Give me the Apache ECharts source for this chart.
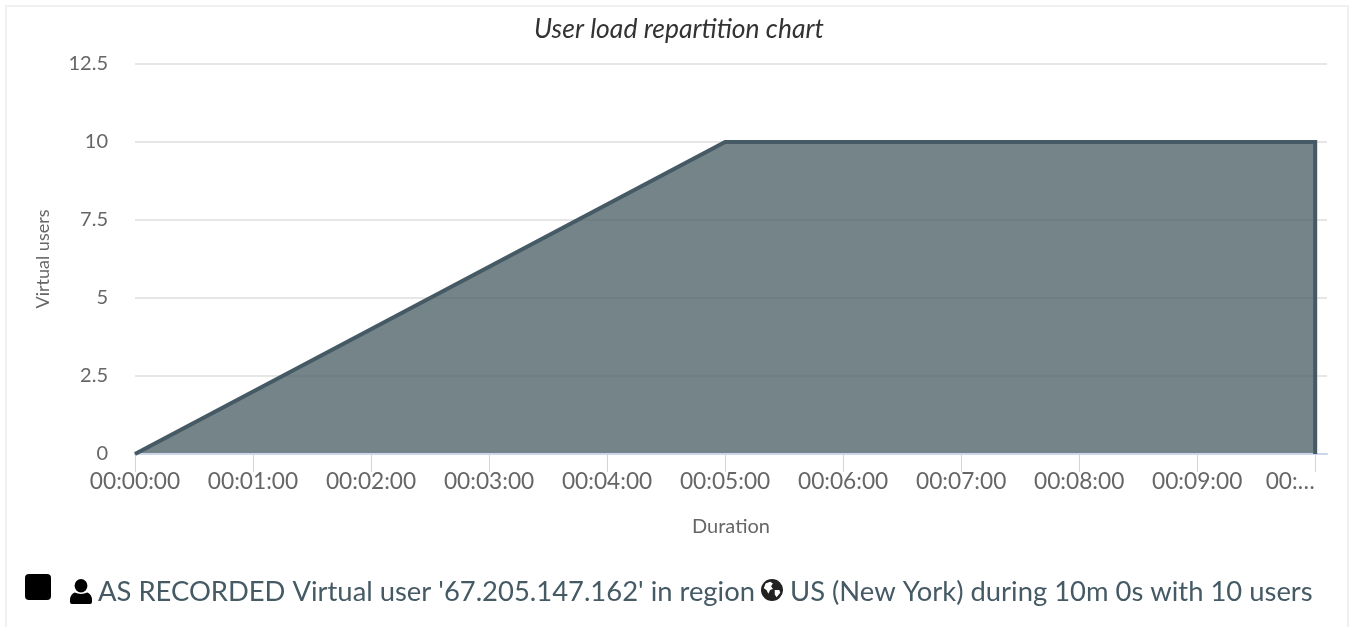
<!DOCTYPE html>
<html>
<head>
<meta charset="utf-8">
<title>User load repartition chart</title>
<script src="https://cdn.jsdelivr.net/npm/echarts@6/dist/echarts.min.js"></script>
<style>
    html, body { margin: 0; padding: 0; background: #fff; overflow: hidden; }
    #frame { position: absolute; left: 5px; top: 5px; width: 1340px; height: 640px; border: 2px solid #f0f0f0; }
    #main { position: absolute; left: 0; top: 0; width: 1349px; height: 627px; }
</style>
</head>
<body>
<div id="frame"></div>
<div id="main"></div>
<script>
    var FONT = 'Lato, "Noto Sans", sans-serif';

    // duration in seconds, virtual users
    var durations = [0, 300, 600, 600];
    var users = [0, 10, 10, 0];

    var xTickValues = [0, 60, 120, 180, 240, 300, 360, 420, 480, 540, 600];
    var xTickLabels = ['00:00:00', '00:01:00', '00:02:00', '00:03:00', '00:04:00', '00:05:00',
        '00:06:00', '00:07:00', '00:08:00', '00:09:00', '00:…'];

    var seriesName = "AS RECORDED Virtual user '67.205.147.162' in region US (New York) during 10m 0s with 10 users";
    var legendBefore = "AS RECORDED Virtual user '67.205.147.162' in region";
    var legendAfter = " US (New York) during 10m 0s with 10 users";

    var userIcon = 'data:image/svg+xml,' + encodeURIComponent(
        '<svg xmlns="http://www.w3.org/2000/svg" viewBox="0 0 24 26"><circle cx="12" cy="7" r="7"/>' +
        '<path d="M5 14q7 3 14 0q5 2 5 8v2q0 2-2 2H2q-2 0-2-2v-2q0-6 5-8z"/></svg>');
    var globeIcon = 'data:image/svg+xml,' + encodeURIComponent(
        '<svg xmlns="http://www.w3.org/2000/svg" viewBox="0 0 24 24"><circle cx="12" cy="12" r="12" fill="#222"/>' +
        '<path fill="#fff" d="M5 5l5-2 3 2-2 3 2 3-3 1-2 4-2-4-3-2zM15 12l5 0 1 3-4 5-2-3z"/></svg>');

    var xData = [];
    for (var i = 0; i < durations.length; i++) {
        xData.push([durations[i], users[i]]);
    }

    var myChart = echarts.init(document.getElementById('main'));
    var option = {
        animation: false,
        textStyle: { fontFamily: FONT },
        title: {
            text: 'User load repartition chart',
            left: 674,
            top: 11,
            textAlign: 'center',
            textStyle: { fontFamily: FONT, fontSize: 26.5, fontWeight: 'normal', fontStyle: 'italic', color: '#333' }
        },
        grid: { left: 135, right: 22, top: 64, bottom: 173 },
        legend: {
            left: 25,
            top: 574,
            padding: 0,
            itemWidth: 26,
            itemHeight: 26,
            itemGap: 0,
            icon: 'path://M4 0H22Q26 0 26 4V22Q26 26 22 26H4Q0 26 0 22V4Q0 0 4 0Z',
            itemStyle: { color: '#000', borderWidth: 0 },
            data: [seriesName],
            formatter: function () {
                return '{user|}{gap|}' + legendBefore + '{gap|}{globe|}' + legendAfter;
            },
            textStyle: {
                fontFamily: FONT,
                fontSize: 27.4,
                color: '#455a64',
                padding: [11, 0, 0, 14],
                rich: {
                    user: { width: 22, height: 25, verticalAlign: 'top', backgroundColor: { image: userIcon } },
                    gap: { width: 6, height: 1 },
                    globe: { width: 22, height: 22, verticalAlign: 'top', backgroundColor: { image: globeIcon } }
                }
            }
        },
        xAxis: {
            type: 'value',
            min: 0,
            max: 606,
            name: 'Duration',
            nameLocation: 'middle',
            nameGap: 63,
            nameTextStyle: { fontFamily: FONT, fontSize: 20, color: '#666' },
            splitLine: { show: false },
            z: 3,
            axisLine: { show: true, lineStyle: { color: '#ccd6eb', width: 2 } },
            axisTick: { show: true, length: 18, lineStyle: { color: '#ccd6eb', width: 1 }, customValues: xTickValues },
            axisLabel: {
                customValues: xTickValues,
                margin: 16,
                hideOverlap: false,
                fontFamily: FONT,
                fontSize: 22.7,
                color: '#666',
                formatter: function (value) {
                    var label = xTickLabels[xTickValues.indexOf(value)];
                    // the last label is cut short and sits left of its tick
                    return value === 600 ? '{last|' + label + '}' : label;
                },
                rich: {
                    last: { fontFamily: FONT, fontSize: 22.7, color: '#666', padding: [0, 50, 0, 0] }
                }
            }
        },
        yAxis: {
            type: 'value',
            min: 0,
            max: 12.5,
            interval: 2.5,
            name: 'Virtual users',
            nameLocation: 'middle',
            nameGap: 83,
            nameTextStyle: { fontFamily: FONT, fontSize: 18, color: '#666' },
            axisLine: { show: false },
            axisTick: { show: false },
            axisLabel: { margin: 27, padding: [0, 0, 4, 0], fontFamily: FONT, fontSize: 20, color: '#666' },
            splitLine: { lineStyle: { color: '#e6e6e6', width: 2 } }
        },
        series: [{
            name: seriesName,
            type: 'line',
            showSymbol: false,
            symbol: 'none',
            lineStyle: { color: '#455a64', width: 4, join: 'miter' },
            itemStyle: { color: '#455a64' },
            areaStyle: { color: '#455b60', opacity: 0.75 },
            data: xData
        }]
    };
    myChart.setOption(option);
</script>
</body>
</html>
